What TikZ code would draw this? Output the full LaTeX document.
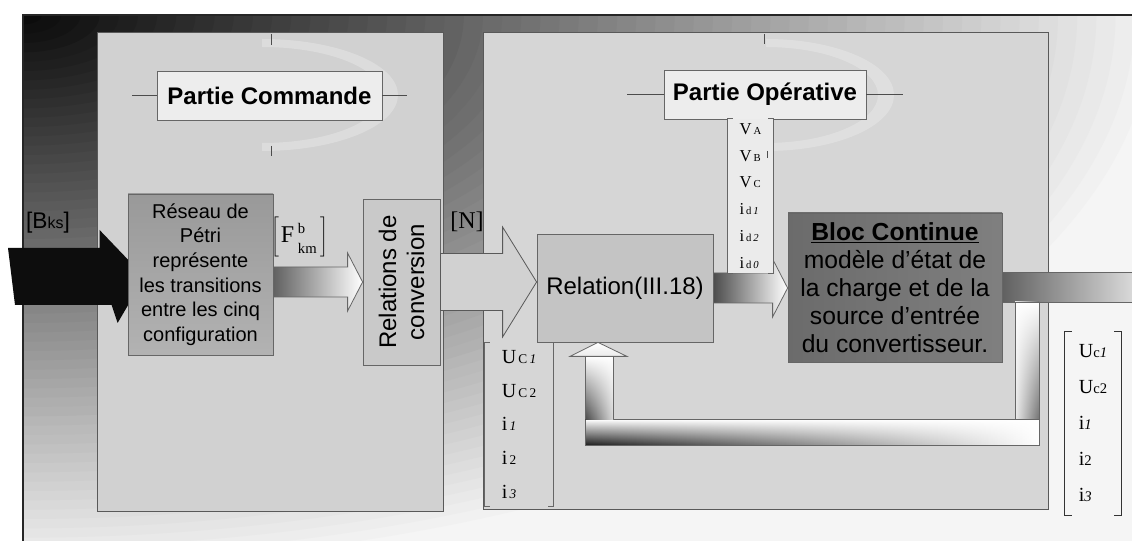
\documentclass[tikz,border=0pt]{standalone}
\usepackage{fontspec}
\setmainfont{Liberation Sans}
\newfontfamily\serifF{Liberation Serif}
\usetikzlibrary{calc,fadings}
\pgfdeclarelayer{bg}
\pgfdeclarelayer{mid}
\pgfsetlayers{bg,mid,main}
\tikzfading[name=fadeR, left color=transparent!100, middle color=transparent!85, right color=transparent!0]
\tikzfading[name=fadeUp, bottom color=transparent!100, top color=transparent!0]
\newcommand{\blkarrow}[6][]{\path[#1] ($(#2)+(0,-#4)$) -- ($(#3)+(-#6,-#4)$) -- ($(#3)+(-#6,-#5)$) -- (#3) -- ($(#3)+(-#6,#5)$) -- ($(#3)+(-#6,#4)$) -- ($(#2)+(0,#4)$) -- cycle;}
\begin{document}
\begin{tikzpicture}[x=0.75pt,y=-0.75pt,
  sz/.style 2 args={minimum width=#1*0.75pt, minimum height=#2*0.75pt},
  panel/.style={draw=black!65, line width=0.6pt, inner sep=0pt},
  box/.style={draw=black!60, line width=0.6pt, inner sep=0pt, align=center},
  titlebox/.style={box, fill=black!7, font=\bfseries\fontsize{18}{21}\selectfont},
  tick/.style={draw=black!70, line width=0.6pt},
  col/.style={inner sep=0pt, align=left},
  brk/.style={draw=black!60, line width=0.7pt},
  pipe/.style={draw=black!60, line width=0.6pt},
  swoosh/.style={fill=white, opacity=0.24}]
\useasboundingbox (0,0) rectangle (1132,541);
\begin{pgfonlayer}{bg}
\fill[white] (0,0) rectangle (1132,541);
\begin{scope}
\clip (23,15) rectangle (1132,541);
\fill[black!4] (23,15) rectangle (1132,541);
\foreach \i in {60,59,...,1}{
  \pgfmathsetmacro\dk{97-93*(\i/60)}
  \pgfmathsetmacro\rx{1150*(\i/60)}
  \pgfmathsetmacro\ry{560*(\i/60)}
  \fill[black!\dk] (23,15) ellipse [x radius=\rx, y radius=\ry];
}
\end{scope}
\draw[black!85, line width=1.2pt] (23,541) -- (23,15) -- (1132,15);
\node[panel, fill=black!18, sz={346}{479}, anchor=north west] (lp) at (97,32) {};
\node[panel, fill=black!16, sz={565}{477}, anchor=north west] (rp) at (483,32) {};
\fill[swoosh] (262,39) arc[start angle=-90,end angle=90,x radius=136,y radius=56] -- (262,143) arc[start angle=90,end angle=-90,x radius=120,y radius=48] -- cycle;
\fill[swoosh] (766,39) arc[start angle=-90,end angle=90,x radius=128,y radius=56] -- (766,143) arc[start angle=90,end angle=-90,x radius=112,y radius=48] -- cycle;
\draw[tick] (271,34) -- (271,45) (271,146) -- (271,156) (764,34) -- (764,44);
\end{pgfonlayer}

% titles
\node[titlebox, sz={225}{49}] (pc) at (269.5,95.5) {Partie Commande};
\draw[tick] (pc.west) -- ++(-25,0) (pc.east) -- ++(25,0);
\node[titlebox, sz={202}{49}] (po) at (765,94.5) {Partie Opérative};
\draw[tick] (po.west) -- ++(-37,0) (po.east) -- ++(37,0);

% main blocks
\node[box, sz={145}{161}, top color=black!40, bottom color=black!30, font=\fontsize{15}{18.4}\selectfont] (reseau) at (200.5,274.5)
  {Réseau de\\Pétri\\représente\\les transitions\\entre les cinq\\configuration};
\node[box, sz={77}{166}, fill=black!21] (conv) at (401.5,282) {};
\node[rotate=90, align=center, inner sep=0pt, font=\fontsize{18}{21}\selectfont] (convtxt) at (conv.center) {Relations de\\conversion};
\node[box, sz={176}{108}, fill=black!23, font=\fontsize{18}{21}\selectfont] (relation) at (625,288) {Relation(III.18)};
\node[box, sz={214}{149}, left color=black!58, right color=black!50, font=\fontsize{18.5}{21}\selectfont] (bloc) at (895,287.5)
  {\textbf{\underline{Bloc Continue}}\\modèle d’état de\\la charge et de la\\source d’entrée\\du convertisseur.};

% labels
\node[inner sep=0pt, font=\fontsize{17}{17}\selectfont] (bks) at (48,223) {[B{\fontsize{12}{12}\selectfont ks}]};
\node[inner sep=0pt, font=\serifF] (fkm) at (300,238) {\fontsize{18}{18}\selectfont$\left[\mskip1mu\hbox{F}\mskip3mu\hbox{\fontsize{11}{15}\selectfont\begin{tabular}{@{}l@{}}b\\km\end{tabular}}\mskip3mu\right]$};
\node[inner sep=0pt, font=\serifF\fontsize{18}{18}\selectfont] (nlab) at (467,221.5) {[N]};

% input black arrow (behind reseau)
\coordinate (bin) at (8,276);
\begin{pgfonlayer}{mid}
\fill[black!95] ($(bin)+(0,-28)$) -- ($(reseau.west |- bin)+(-28,-28)$) -- ($(reseau.west |- bin)+(-28,-46)$) -- ($(reseau.west |- bin)+(17,1)$) -- ($(reseau.west |- bin)+(-10,47)$) -- ($(reseau.west |- bin)+(-16,29)$) -- ($(bin)+(7,29)$) -- cycle;
\end{pgfonlayer}

% block arrows
\blkarrow[draw=black!60, line width=0.6pt, left color=black!62, right color=white]{reseau.east |- conv.west}{conv.west}{15}{29}{15}
\blkarrow[draw=black!65, line width=0.6pt, fill=black!18]{conv.east}{relation.west |- conv.east}{28.5}{55}{34}
\blkarrow[draw=black!60, line width=0.6pt, left color=black!70, right color=white]{relation.east}{bloc.west |- relation.east}{15}{29}{15}

% output and feedback
\coordinate (outR) at (1132,287.5);
\path[draw=black!60, line width=0.6pt, left color=black!62, right color=black!15] ($(bloc.east)+(0,-15)$) rectangle ($(outR)+(0,15)$);
\coordinate (fbtip) at ($(relation.south)+(-27,0)$);
\path[left color=white!92!black, right color=black!55] (1015,302) rectangle (1039,419);
\fill[white, path fading=fadeUp] (1015,302) rectangle (1039,419);
\draw[pipe] (1015,302) rectangle (1039,419);
\path[top color=white, bottom color=black!88] ($(fbtip)+(-13,77)$) rectangle (1039,445);
\fill[white, path fading=fadeR] ($(fbtip)+(-13,77)$) rectangle (1039,445);
\draw[pipe] ($(fbtip)+(-13,77)$) rectangle (1039,445);
\path[left color=black!72, right color=white!85!black] ($(fbtip)+(-13,14)$) rectangle ($(fbtip)+(15,77)$);
\fill[white, path fading=fadeUp] ($(fbtip)+(-13,14)$) rectangle ($(fbtip)+(15,77)$);
\draw[pipe] ($(fbtip)+(-13,77)$) -- ($(fbtip)+(-13,14)$) ($(fbtip)+(15,14)$) -- ($(fbtip)+(15,77)$);
\path[pipe, top color=white, bottom color=black!8] ($(fbtip)+(-28,14)$) -- ($(fbtip)+(29,14)$) -- (fbtip) -- cycle;

% vector columns
\node[col, fill=black!8, sz={45}{154}, font=\serifF\fontsize{12.5}{20.2}\selectfont] (vcol) at (750.5,196)
  {V{\fontsize{8}{8}\selectfont\,A}\\V{\fontsize{8}{8}\selectfont\,B}\\V{\fontsize{8}{8}\selectfont\,C}\\i{\fontsize{8}{8}\selectfont\,d\,\textit{1}}\\i{\fontsize{8}{8}\selectfont\,d\,\textit{2}}\\i{\fontsize{8}{8}\selectfont\,d\,\textit{0}}};
\draw[brk] ($(vcol.north west)+(5,0)$) -- (vcol.north west) -- (vcol.south west) -- ++(5,0);
\draw[brk] ($(vcol.north east)+(-5,0)$) -- (vcol.north east) -- (vcol.south east) -- ++(-5,0);
\draw[tick] (767,151) -- (767,158);

\node[col, sz={68}{163}, font=\serifF\fontsize{15}{25.2}\selectfont] (ucl) at (519,424.5)
  {U{\fontsize{10}{10}\selectfont\,C\,\textit{1}}\\U{\fontsize{10}{10}\selectfont\,C\,2}\\i{\fontsize{10}{10}\selectfont\,\textit{1}}\\i{\fontsize{10}{10}\selectfont\,2}\\i{\fontsize{10}{10}\selectfont\,\textit{3}}};
\draw[brk] ($(ucl.north west)+(5,0)$) -- (ucl.north west) -- (ucl.south west) -- ++(5,0);
\draw[brk] ($(ucl.north east)+(-5,0)$) -- (ucl.north east) -- (ucl.south east) -- ++(-5,0);

\node[col, sz={56}{183}, font=\serifF\fontsize{15}{27}\selectfont] (ucr) at (1093,423.5)
  {U{\fontsize{11}{11}\selectfont c\textit{1}}\\U{\fontsize{11}{11}\selectfont c2}\\i{\fontsize{11}{11}\selectfont\textit{1}}\\i{\fontsize{11}{11}\selectfont 2}\\i{\fontsize{11}{11}\selectfont\textit{3}}};
\draw[brk, black!80, line width=0.9pt] ($(ucr.north west)+(7,0)$) -- (ucr.north west) -- (ucr.south west) -- ++(7,0);
\draw[brk, black!80, line width=0.9pt] ($(ucr.north east)+(-7,0)$) -- (ucr.north east) -- (ucr.south east) -- ++(-7,0);
\end{tikzpicture}
\end{document}
